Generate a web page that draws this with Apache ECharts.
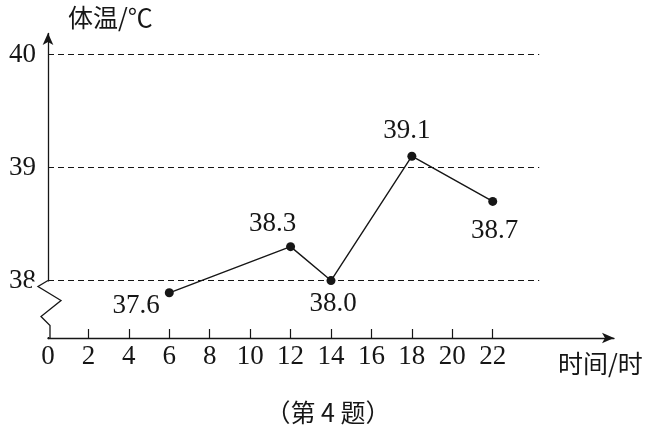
<!DOCTYPE html>
<html><head><meta charset="utf-8">
<script src="https://cdn.jsdelivr.net/npm/echarts@6/dist/echarts.min.js"></script>
<style>html,body{margin:0;padding:0;background:#fff}#c{width:656px;height:436px}</style>
</head><body><div id="c"></div>
<script>
const hours = [6, 12, 14, 18, 22];
const temps = [37.6, 38.3, 38.0, 39.1, 38.7];
const xTickValues = [0, 2, 4, 6, 8, 10, 12, 14, 16, 18, 20, 22];
const yTickValues = [38, 39, 40];
const refTemps = [38, 39, 40];
const yName = '体温/℃';
const xName = '时间/时';
const caption = '（第 4 题）';

const INK = '#161616';
const NUM_FONT = '"Liberation Serif", "DejaVu Serif", serif';
const CJK_FONT = '"Noto Sans CJK SC", sans-serif';

const labelCfg = [
  { position: 'left', offset: [0, 13] },
  { position: 'top', offset: [-18, 0] },
  { position: 'bottom', offset: [2, 0] },
  { position: 'top', offset: [-5, -2] },
  { position: 'bottom', offset: [2, 6] }
];

const chart = echarts.init(document.getElementById('c'), null, { renderer: 'canvas' });

const option = {
  animation: false,
  backgroundColor: '#fff',
  title: [
    { text: yName, left: 68, top: 5, padding: 0, textStyle: { fontFamily: CJK_FONT, fontSize: 25, fontWeight: 'normal', color: INK } },
    { text: xName, left: 558, top: 351, padding: 0, textStyle: { fontFamily: CJK_FONT, fontSize: 25, fontWeight: 'normal', color: INK } },
    { text: caption, left: 328, textAlign: 'center', top: 400, padding: 0, textStyle: { fontFamily: CJK_FONT, fontSize: 25, fontWeight: 'normal', color: INK } }
  ],
  grid: { left: 48, right: 42, top: 33, bottom: 98, containLabel: false },
  xAxis: {
    type: 'value', min: 0, max: 28, interval: 2,
    axisLine: { show: true, onZero: false, symbol: ['none', 'arrow'], symbolSize: [8, 12], lineStyle: { color: INK, width: 1.3 } },
    axisTick: { show: true, inside: true, length: 9, customValues: xTickValues, lineStyle: { color: INK, width: 1.2 } },
    axisLabel: { customValues: xTickValues, fontFamily: NUM_FONT, fontSize: 27, color: INK, margin: 5 },
    splitLine: { show: false }
  },
  yAxis: {
    type: 'value', min: 37.2, max: 40.19,
    breaks: [{ start: 37.65, end: 37.95, gap: '0.3%' }],
    breakArea: { show: false },
    axisLine: { show: true, symbol: ['none', 'arrow'], symbolSize: [8, 12], lineStyle: { color: INK, width: 1.3 } },
    axisTick: { show: false },
    axisLabel: { customValues: yTickValues, fontFamily: NUM_FONT, fontSize: 27, color: INK, margin: 12 },
    splitLine: { show: false }
  },
  series: [{
    type: 'line',
    data: hours.map((h, i) => ({ value: [h, temps[i]], label: labelCfg[i] })),
    symbol: 'circle', symbolSize: 9,
    itemStyle: { color: INK },
    lineStyle: { color: INK, width: 1.4 },
    label: { show: true, fontFamily: NUM_FONT, fontSize: 27, color: INK, distance: 5, formatter: p => p.value[1].toFixed(1) },
    markLine: {
      silent: true, symbol: 'none', label: { show: false },
      lineStyle: { color: INK, type: [6, 4], width: 1.1 },
      data: refTemps.map(t => [{ coord: [0, t] }, { coord: [24.3, t] }])
    },
    z: 5
  }]
};
chart.setOption(option);

// broken-axis zigzag on the y axis
const p38 = chart.convertToPixel({ gridIndex: 0 }, [0, 38]);
const pMin = chart.convertToPixel({ gridIndex: 0 }, [0, 37.2]);
const x0 = p38[0], y38 = p38[1], yB = pMin[1];
chart.setOption({
  graphic: [
    { type: 'rect', shape: { x: x0 - 16, y: y38 + 1, width: 32, height: yB - y38 - 2 }, style: { fill: '#fff' }, z: 50 },
    { type: 'polyline', shape: { points: [[x0, y38], [x0 - 10, y38 + 6], [x0 + 13, y38 + 20], [x0 - 7, y38 + 36], [x0 + 2, y38 + 45], [x0 + 2, yB]] },
      style: { stroke: INK, lineWidth: 1.3, fill: null }, z: 51 }
  ]
});
</script>
</body></html>
